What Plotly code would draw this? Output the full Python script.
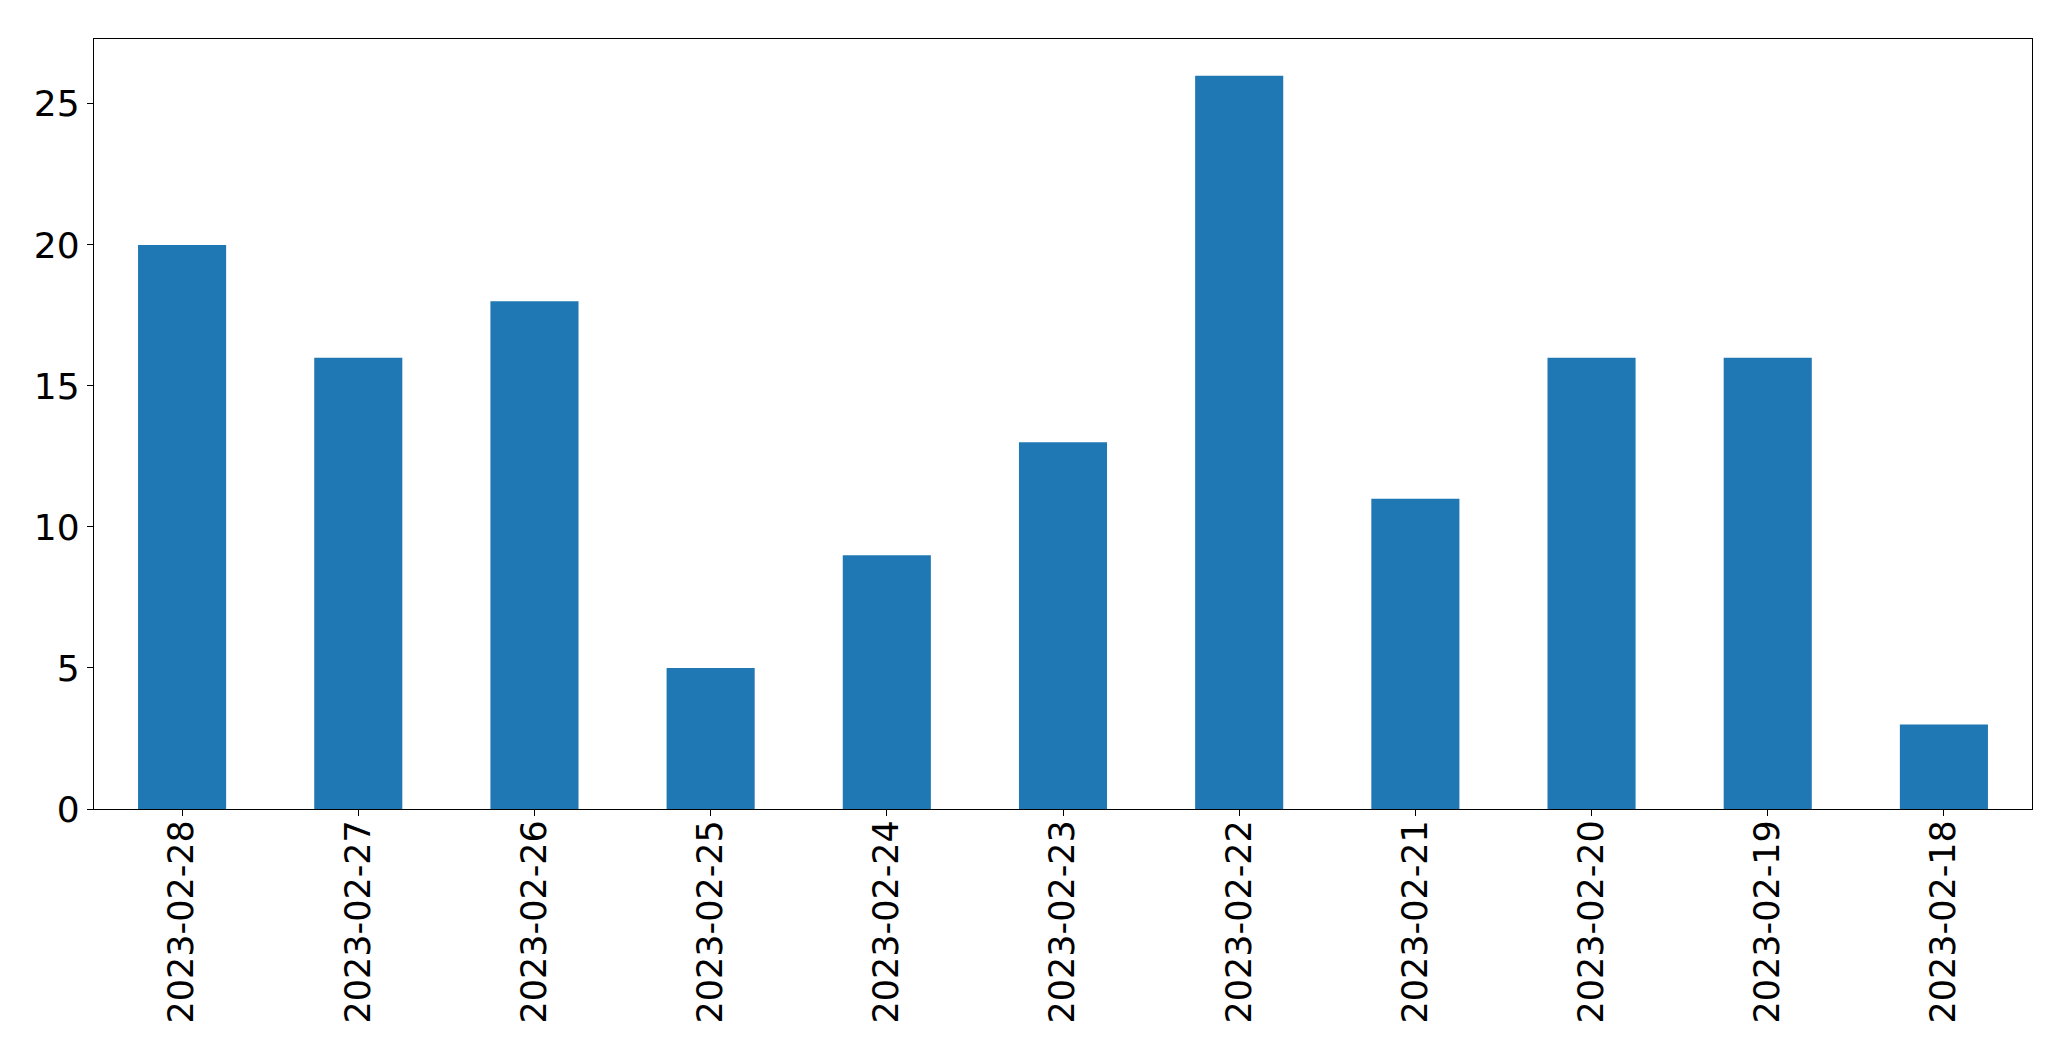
import plotly.graph_objects as go

dates = ["2023-02-28", "2023-02-27", "2023-02-26", "2023-02-25", "2023-02-24",
         "2023-02-23", "2023-02-22", "2023-02-21", "2023-02-20", "2023-02-19", "2023-02-18"]
counts = [20, 16, 18, 5, 9, 13, 26, 11, 16, 16, 3]

fig = go.Figure(go.Bar(x=dates, y=counts, width=0.5, marker=dict(color="#1f77b4", line=dict(width=0))))

fig.update_layout(
    width=2063, height=1053,
    margin=dict(l=86, r=39, t=31, b=252),
    paper_bgcolor="white", plot_bgcolor="white",
    font=dict(family="DejaVu Sans", size=36, color="black"),
    showlegend=False,
)
fig.update_xaxes(
    type="category", range=[-0.5, 10.5], tickangle=-90,
    showline=True, mirror=True, linecolor="black", linewidth=1.3,
    ticks="outside", ticklen=6, tickwidth=1.3, tickcolor="black",
    showgrid=False, zeroline=False, tickfont=dict(size=35),
    ticklabelstandoff=-10,
)
fig.update_yaxes(
    range=[0, 27.3], tickvals=[0, 5, 10, 15, 20, 25],
    showline=True, mirror=True, linecolor="black", linewidth=1.3,
    ticks="outside", ticklen=6, tickwidth=1.3, tickcolor="black",
    showgrid=False, zeroline=False, tickfont=dict(size=36),
)
fig.write_html("out.html")
